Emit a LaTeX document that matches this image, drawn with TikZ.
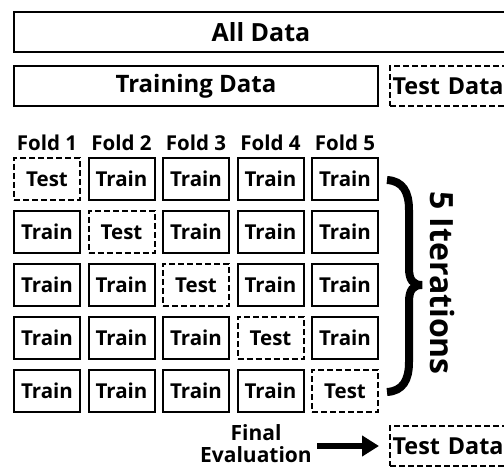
\documentclass[tikz,border=0pt]{standalone}
\usepackage{fontspec}
\setmainfont{Open Sans}
\usetikzlibrary{arrows.meta}
\begin{document}
\begin{tikzpicture}[x=1pt,y=-1pt,
  solidbox/.style={draw, line width=2pt, inner sep=0pt},
  dashbox/.style={draw, line width=2pt, dash pattern=on 6pt off 3pt, inner sep=0pt},
  bigtext/.style={font=\bfseries\fontsize{24}{28}\selectfont},
  sidetext/.style={font=\bfseries\fontsize{23.4}{28}\selectfont},
  cell/.style={minimum width=66pt, minimum height=42pt, font=\bfseries\fontsize{20.5}{24}\selectfont},
  foldlabel/.style={inner sep=0pt, font=\bfseries\fontsize{20.5}{24}\selectfont},
  evallabel/.style={inner sep=0pt, align=center, font=\bfseries\fontsize{21}{22}\selectfont},
  iterlabel/.style={inner sep=0pt, rotate=-90, font=\bfseries\fontsize{32}{36}\selectfont},
  bracestroke/.style={line width=8pt},
  evalarrow/.style={line width=6pt, -{Triangle[length=17pt,width=20pt]}, shorten <=5pt, shorten >=10pt}]
\useasboundingbox (0,0) rectangle (504,468);
\clip (0,0) rectangle (504,468);

% data split
\node[solidbox, font=\bfseries\fontsize{25}{28}\selectfont, minimum width=494pt, minimum height=40pt] (all) at (261,32) {All Data};
\node[solidbox, bigtext, minimum width=364pt, minimum height=40pt] (train) at (196,86) {Training Data};
\node[dashbox, sidetext, anchor=west, text width=124pt, inner xsep=2.5pt, minimum height=40pt, align=left] (testtop) at (389,86) {Test Data};

% fold headers and the 5x5 grid
\foreach \c in {1,...,5} {
  \pgfmathsetmacro{\cx}{47+(\c-1)*74.5}
  \node[foldlabel] (fold\c) at (\cx,143) {Fold \c};
  \foreach \r in {1,...,5} {
    \pgfmathsetmacro{\cy}{179+(\r-1)*53}
    \ifnum\r=\c
      \node[cell, dashbox] (cell\r\c) at (\cx,\cy) {Test};
    \else
      \node[cell, solidbox] (cell\r\c) at (\cx,\cy) {Train};
    \fi
  }
}

% brace over the five rows
\draw[bracestroke] (387,180) .. controls (403,181) and (409,192) .. (409,210)
  -- (409,268) .. controls (409,280) and (413,285) .. (422,285)
  .. controls (413,285) and (409,290) .. (409,302)
  -- (409,362) .. controls (409,380) and (403,391) .. (387,392);
\node[iterlabel] (iter) at (442,283) {5 Iterations};

% final evaluation
\node[evallabel] (final) at (256,444) {Final\\Evaluation};
\node[dashbox, sidetext, anchor=west, text width=124pt, inner xsep=2.5pt, minimum height=40pt, align=left] (testbot) at (389,446) {Test Data};
\draw[evalarrow] (final.east |- testbot.west) -- (testbot.west);
\end{tikzpicture}
\end{document}
